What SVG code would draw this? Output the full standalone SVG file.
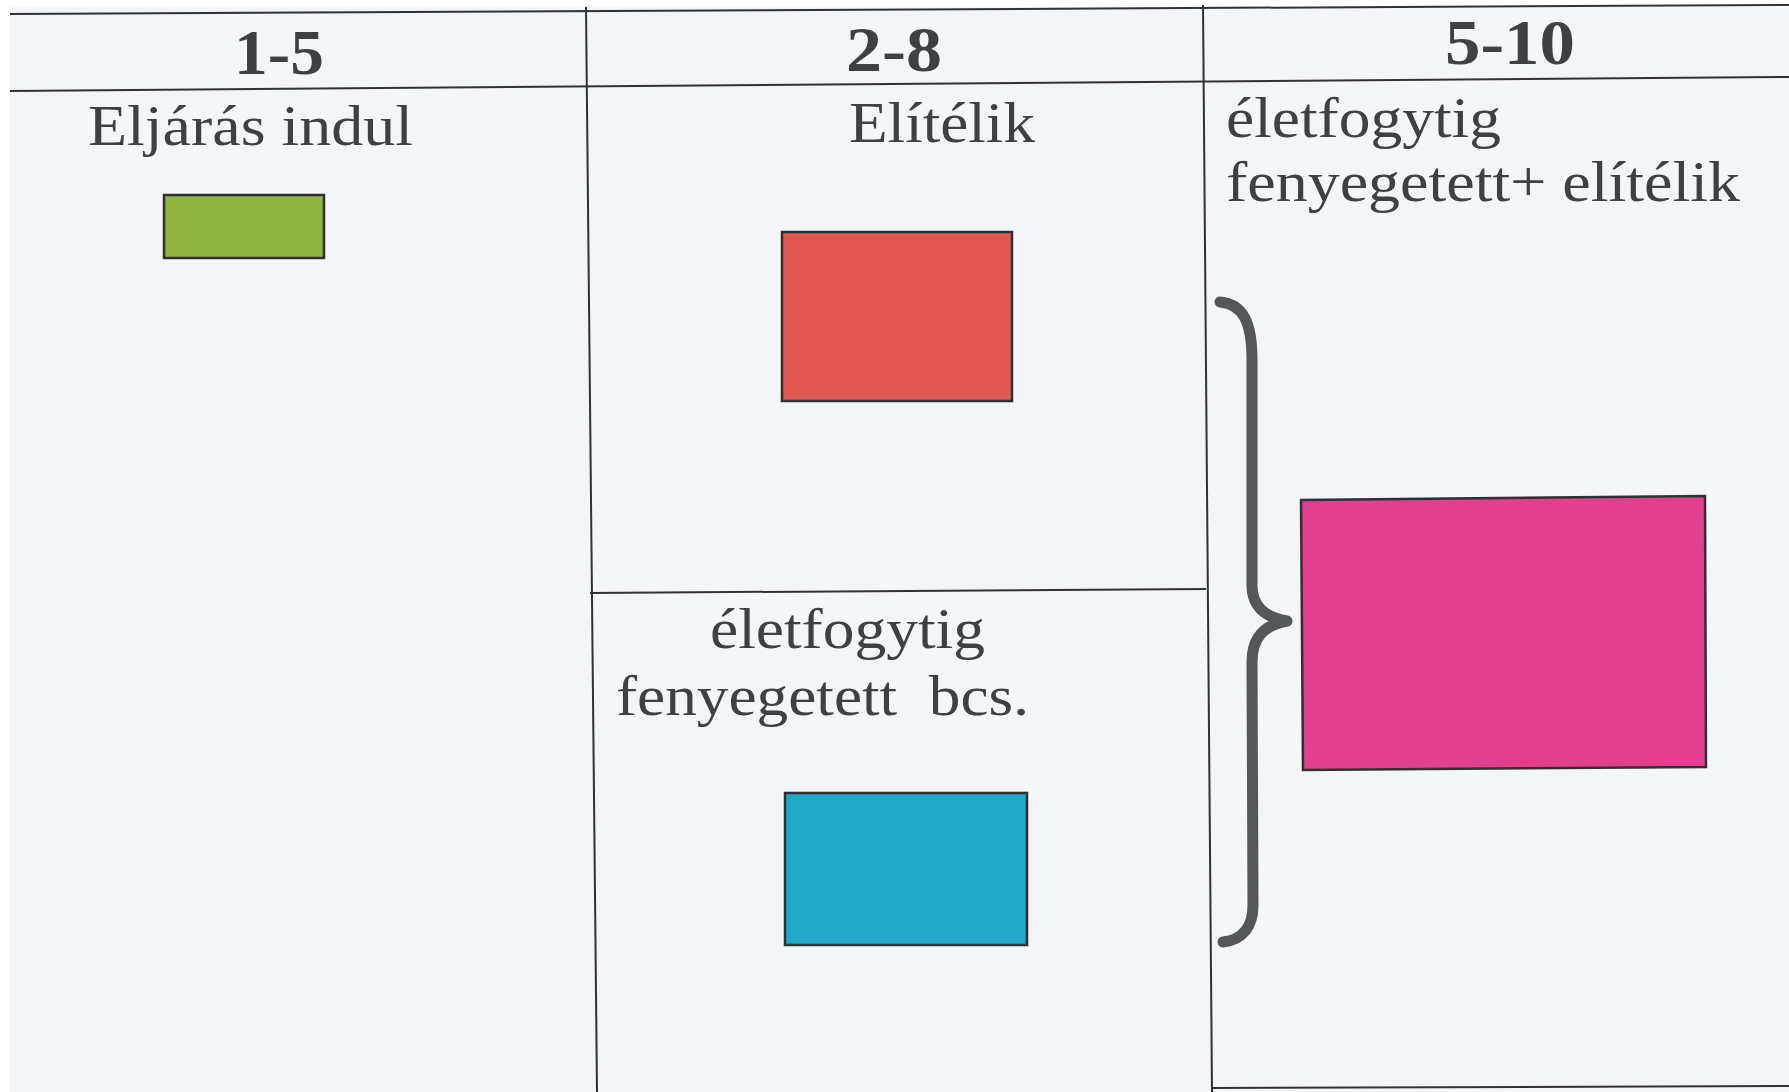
<svg xmlns="http://www.w3.org/2000/svg" width="1789" height="1092" viewBox="0 0 1789 1092">
<style>
.grid{stroke:#303236;stroke-width:2;fill:none}
.t{font-family:"Liberation Serif","Times New Roman",serif;fill:#3d4045;font-size:57px}
.h{font-family:"Liberation Serif","Times New Roman",serif;fill:#3d4045;font-size:64px;font-weight:bold}
.box{stroke:#2f3034;stroke-width:2.5}
</style>
<rect x="0" y="0" width="1789" height="1092" fill="#ffffff"/>
<rect x="10" y="7" width="1779" height="1085" fill="#f4f5f9"/>
<g id="connectors">
<line class="grid" x1="10" y1="14" x2="1789" y2="5"/>
<line class="grid" x1="10" y1="91" x2="1789" y2="77"/>
<line class="grid" x1="586" y1="7" x2="597" y2="1092"/>
<line class="grid" x1="1203" y1="5" x2="1212" y2="1092"/>
<line class="grid" x1="590" y1="593" x2="1206" y2="589"/>
<line class="grid" x1="1212" y1="1088" x2="1789" y2="1086"/>
<path d="M1220,302 C1243,304 1252,322 1252,360 L1252,585 C1252,606 1264,617 1287,621 C1264,625 1252,638 1252,662 L1253,905 C1253,926 1243,940 1223,942" fill="none" stroke="#54565a" stroke-width="11" stroke-linecap="round" stroke-linejoin="round"/>
</g>
<g id="col1">
<text class="h" x="234" y="74" textLength="90" lengthAdjust="spacingAndGlyphs">1-5</text>
<text class="t" x="88" y="145" textLength="325" lengthAdjust="spacingAndGlyphs">Eljárás indul</text>
<rect id="green" class="box" x="164" y="195" width="160" height="63" fill="#8fb43f"/>
</g>
<g id="col2">
<text class="h" x="846" y="71" textLength="96" lengthAdjust="spacingAndGlyphs">2-8</text>
<text class="t" x="849" y="142" textLength="186" lengthAdjust="spacingAndGlyphs">Elítélik</text>
<rect id="red" class="box" x="782" y="232" width="230" height="169" fill="#e05753"/>
<text class="t" x="710" y="648" textLength="275" lengthAdjust="spacingAndGlyphs">életfogytig</text>
<text class="t" x="616" y="715" textLength="413" lengthAdjust="spacingAndGlyphs" xml:space="preserve">fenyegetett  bcs.</text>
<rect id="cyan" class="box" x="785" y="793" width="242" height="152" fill="#21a9c8"/>
</g>
<g id="col3">
<text class="h" x="1445" y="64" textLength="130" lengthAdjust="spacingAndGlyphs">5-10</text>
<text class="t" x="1226" y="137" textLength="275" lengthAdjust="spacingAndGlyphs">életfogytig</text>
<text class="t" x="1226" y="201" textLength="514" lengthAdjust="spacingAndGlyphs">fenyegetett+ elítélik</text>
<path id="magenta" class="box" d="M1301,500 L1705,496 L1706,767 L1303,770 Z" fill="#e2408e"/>
</g>
</svg>
